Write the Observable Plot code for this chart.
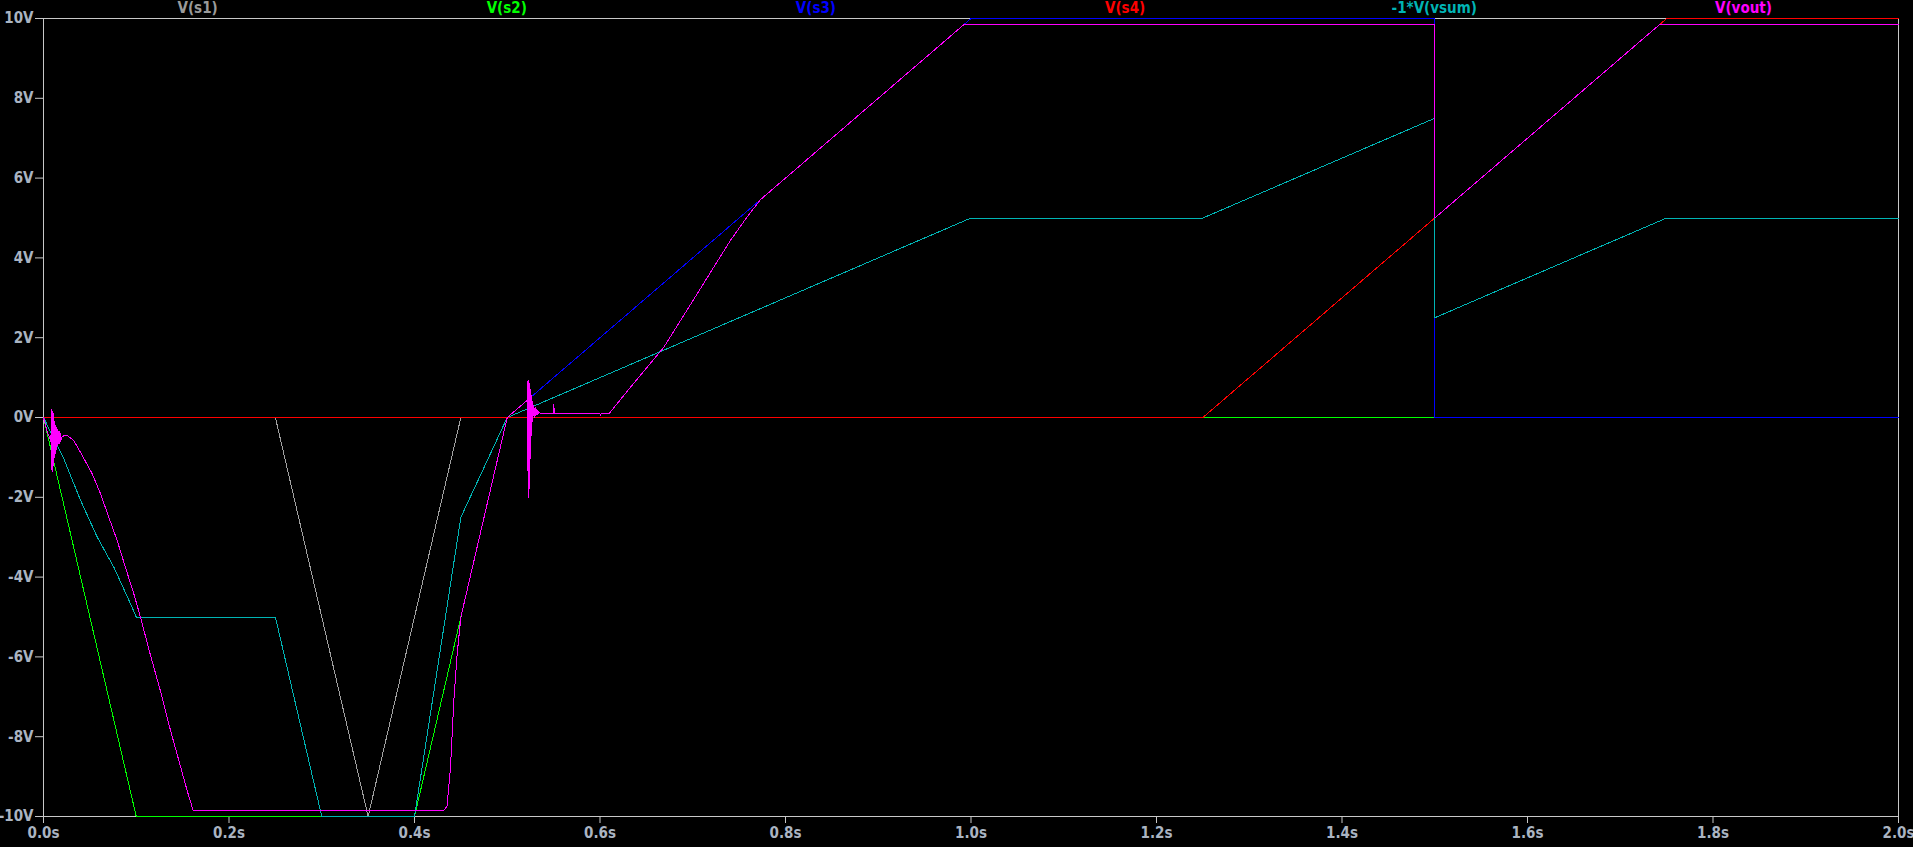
<!DOCTYPE html>
<html>
<head>
<meta charset="utf-8">
<script src="https://cdn.jsdelivr.net/npm/d3@7"></script>
<script src="https://cdn.jsdelivr.net/npm/@observablehq/plot@0.6"></script>
<style>
  html, body { margin: 0; padding: 0; background: #000; }
  #wrap { position: relative; width: 1913px; height: 847px; background: #000; overflow: hidden; }
  #legend { position: absolute; top: 1px; left: 43px; width: 1855px; display: flex;
    font-family: "Liberation Sans Narrow", "Arial Narrow", "DejaVu Sans Condensed", sans-serif;
    font-weight: bold; font-size: 15px; line-height: 15px; }
  #legend div { flex: 1; text-align: center; }
</style>
</head>
<body>
<div id="wrap"><div id="legend"></div></div>
<script>
// ---- data ----
const seriesNames = ["V(s1)", "V(s2)", "V(s3)", "V(s4)", "-1*V(vsum)", "V(vout)"];
const seriesColors = ["#a0a0a0", "#00ff00", "#0000ff", "#ff0000", "#00b4b4", "#ff00ff"];

const xTicks = [0, 0.2, 0.4, 0.6, 0.8, 1.0, 1.2, 1.4, 1.6, 1.8, 2.0];
const yTicks = [-10, -8, -6, -4, -2, 0, 2, 4, 6, 8, 10];

const s1T = [0, 0.25, 0.35, 0.45, 2.0];
const s1V = [0, 0, -10, 0, 0];

const s2T = [0, 0.1, 0.4, 0.5, 2.0];
const s2V = [0, -10, -10, 0, 0];

const s3T = [0, 0.5, 1.0, 1.5, 1.5, 2.0];
const s3V = [0, 0, 10, 10, 0, 0];

const s4T = [0, 1.25, 1.75, 2.0];
const s4V = [0, 0, 10, 10];

const vsumT = [0, 0.022, 0.04, 0.058, 0.076, 0.094, 0.1, 0.25, 0.3, 0.4, 0.45, 0.5, 1.0, 1.25, 1.5, 1.5, 1.75, 2.0];
const vsumV = [0, -1.04, -2.08, -3.0, -3.76, -4.68, -5, -5, -10, -10, -2.5, 0, 5, 5, 7.5, 2.5, 5, 5];

const voutT = [0, 0.004, 0.008,
  0.0085, 0.009, 0.0095, 0.010, 0.0105, 0.011, 0.0115, 0.012, 0.0125, 0.013, 0.0135, 0.014,
  0.0145, 0.015, 0.0155, 0.016, 0.0165, 0.017, 0.0175, 0.018, 0.0185, 0.019,
  0.0195, 0.022, 0.026, 0.0327, 0.0417, 0.0525, 0.0615, 0.0704, 0.0794, 0.0884, 0.0974,
  0.1046, 0.115, 0.126, 0.137, 0.148, 0.155, 0.1614, 0.4316, 0.435, 0.4388, 0.4424, 0.446,
  0.4496, 0.4507, 0.5, 0.5035, 0.5215,
  0.522, 0.5225, 0.523, 0.5235, 0.524, 0.5245, 0.525, 0.5255, 0.526, 0.5265, 0.527, 0.5275,
  0.528, 0.529, 0.530, 0.531, 0.532, 0.533, 0.534, 0.536,
  0.5495, 0.5502, 0.5508, 0.60, 0.6005, 0.601, 0.6095,
  0.6329, 0.6509, 0.6688, 0.6868, 0.7048, 0.7227, 0.7407, 0.7587, 0.773, 0.9925,
  1.5, 1.5, 1.7425, 2.0];
const voutV = [0, -0.35, -0.6,
  0.2, -1.3, 0.15, -1.35, 0.1, -1.2, -0.1, -1.0, -0.2, -0.9, -0.25, -0.8,
  -0.3, -0.7, -0.3, -0.65, -0.35, -0.65, -0.35, -0.6, -0.4, -0.55,
  -0.49, -0.46, -0.46, -0.58, -0.95, -1.41, -1.91, -2.5, -3.08, -3.76, -4.42,
  -5.01, -5.93, -6.85, -7.85, -8.77, -9.36, -9.85, -9.85, -9.74, -8.77, -7.1, -5.93,
  -5.09, -4.93, 0, 0.07, 0.43,
  0.9, -2.0, 0.93, -1.8, 0.85, -1.2, 0.7, -0.8, 0.55, -0.4, 0.4, -0.1,
  0.3, 0.0, 0.25, 0.05, 0.2, 0.08, 0.15, 0.09,
  0.09, 0.33, 0.09, 0.09, 0.05, 0.09, 0.09,
  0.76, 1.26, 1.76, 2.43, 3.1, 3.77, 4.44, 5.03, 5.46, 9.85,
  9.85, 5.0, 9.85, 9.85];

const seriesT = [s1T, s2T, s3T, s4T, vsumT, voutT];
const seriesV = [s1V, s2V, s3V, s4V, vsumV, voutV];

// ---- legend ----
const legend = document.getElementById("legend");
seriesNames.forEach((n, i) => {
  const d = document.createElement("div");
  d.textContent = n;
  d.style.color = i === 0 ? "#9a9a9a" : seriesColors[i];
  legend.appendChild(d);
});

// ---- chart ----
const lines = seriesNames.map((name, i) =>
  Plot.line(seriesT[i].map((t, k) => ({t, v: seriesV[i][k]})), {
    x: "t", y: "v", stroke: seriesColors[i], strokeWidth: 1, shapeRendering: "crispEdges"
  })
);

const chart = Plot.plot({
  width: 1913,
  height: 847,
  marginLeft: 43,
  marginRight: 15,
  marginTop: 18,
  marginBottom: 31,
  style: {
    background: "#000",
    color: "#c8c8c8",
    fontFamily: "'Liberation Sans Narrow', 'Arial Narrow', 'DejaVu Sans Condensed', sans-serif",
    fontWeight: "bold",
    fontSize: "15px"
  },
  x: {domain: [0, 2]},
  y: {domain: [-10, 10]},
  marks: [
    Plot.frame({stroke: "#c8c8c8"}),
    Plot.axisX({ticks: xTicks, tickFormat: d => d.toFixed(1) + "s", tickSize: 7, tickPadding: 4,
      fill: "#aab4c2", stroke: "#c8c8c8", label: null}),
    Plot.axisY({ticks: yTicks, tickFormat: d => d + "V", tickSize: 8, tickPadding: 2,
      fill: "#aab4c2", stroke: "#c8c8c8", label: null}),
    ...lines
  ]
});
document.getElementById("wrap").insertBefore(chart, document.getElementById("legend"));
</script>
</body>
</html>
